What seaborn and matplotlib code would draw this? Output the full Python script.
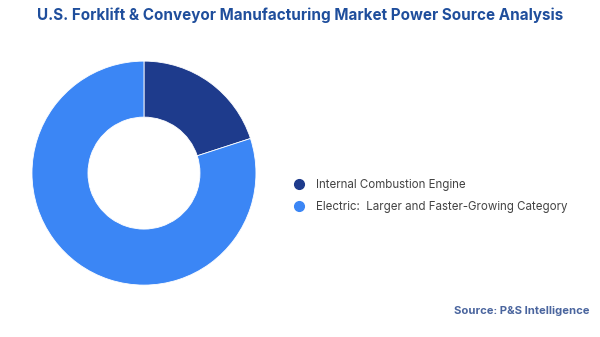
import matplotlib
matplotlib.use("Agg")
import matplotlib.pyplot as plt
from matplotlib.lines import Line2D
import seaborn as sns

# Power source shares (%)
categories = ["Internal Combustion Engine", "Electric:  Larger and Faster-Growing Category"]
shares = [20, 80]
colors = ["#1E3B8C", "#3B86F5"]

title = "U.S. Forklift & Conveyor Manufacturing Market Power Source Analysis"
source = "Source: P&S Intelligence"

sns.set_theme(style="white")
plt.rcParams["font.family"] = ["Inter", "DejaVu Sans"]

fig = plt.figure(figsize=(6.0, 3.37), dpi=100)
fig.patch.set_facecolor("white")

ax = fig.add_axes([0.0533, 0.154, 0.3733, 0.6647])
ax.pie(shares, colors=colors, startangle=90, counterclock=False, radius=1.0,
       wedgeprops=dict(width=0.5, edgecolor="white", linewidth=0.6))
ax.set_xlim(-1.0, 1.0)
ax.set_ylim(-1.0, 1.0)
ax.set_aspect("equal")
ax.axis("off")

fig.text(0.5, 0.955, title, ha="center", va="center", fontsize=10.95,
         fontweight="bold", color="#1F4E9C")

handles = [Line2D([0], [0], marker="o", linestyle="none", markersize=7,
                  markerfacecolor=c, markeredgecolor=c) for c in colors]
fig.legend(handles, categories, loc="center left", bbox_to_anchor=(0.472, 0.418),
           frameon=False, fontsize=8.3, handletextpad=0.95, labelspacing=0.85,
           labelcolor="#444444", handlelength=1.0)

fig.text(0.983, 0.077, source, ha="right", va="center", fontsize=8.1,
         fontweight="bold", color="#4A659E")

fig.savefig("out.png", dpi=100, facecolor="white")
